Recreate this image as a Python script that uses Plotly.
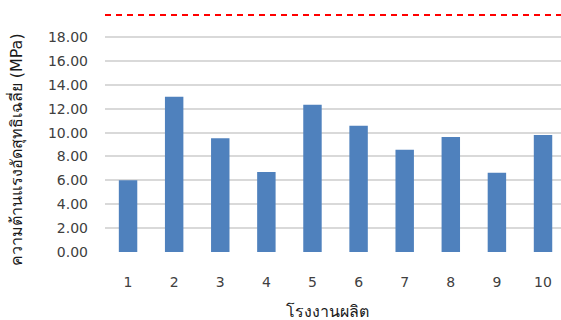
import plotly.graph_objects as go

# Average net compressive strength per production plant
plants = ["1", "2", "3", "4", "5", "6", "7", "8", "9", "10"]
strength = [6.00, 13.00, 9.52, 6.70, 12.34, 10.58, 8.57, 9.63, 6.64, 9.80]
y_ticks = [0, 2, 4, 6, 8, 10, 12, 14, 16, 18]
y_tick_text = [f"{v:.2f}" for v in y_ticks]
limit_value = 19.85

font_family = "DejaVu Sans, Tahoma, sans-serif"
text_color = "#404040"

fig = go.Figure()
fig.add_trace(go.Bar(
    x=list(range(1, len(plants) + 1)),
    y=strength,
    width=0.4,
    marker=dict(color="#4f81bd", line=dict(width=0)),
    hoverinfo="skip",
))

# Reference limit line
fig.add_shape(
    type="line", xref="paper", yref="y",
    x0=0, x1=1, y0=limit_value, y1=limit_value,
    line=dict(color="#ff0000", width=2, dash="6px,5px"),
)

fig.update_layout(
    width=561, height=320,
    margin=dict(l=105, r=0, t=10, b=68),
    paper_bgcolor="white", plot_bgcolor="white",
    showlegend=False,
    font=dict(family=font_family, size=14, color=text_color),
    xaxis=dict(
        range=[0.5, 10.39],
        tickmode="array",
        tickvals=list(range(1, len(plants) + 1)),
        ticktext=plants,
        showgrid=False, zeroline=False, showline=False,
        ticks="", ticklabelstandoff=20,
        tickfont=dict(size=14, color=text_color),
    ),
    yaxis=dict(
        range=[0, 20.27],
        tickmode="array",
        tickvals=y_ticks,
        ticktext=y_tick_text,
        showgrid=True, gridcolor="#d9d9d9", gridwidth=1.5,
        zeroline=False, showline=False,
        ticks="", ticklabelstandoff=16,
        tickfont=dict(size=14, color=text_color),
    ),
    annotations=[
        dict(
            text="ความต้านแรงอัดสุทธิเฉลี่ย (MPa)",
            xref="paper", yref="paper",
            x=-0.195, y=0.42, xanchor="center", yanchor="middle",
            textangle=-90, showarrow=False,
            font=dict(size=16, color="#1a1a1a"),
        ),
        dict(
            text="โรงงานผลิต",
            xref="paper", yref="paper",
            x=0.489, y=-0.245, xanchor="center", yanchor="middle",
            showarrow=False,
            font=dict(size=16, color="#1a1a1a"),
        ),
    ],
)

fig.write_html("out.html")
